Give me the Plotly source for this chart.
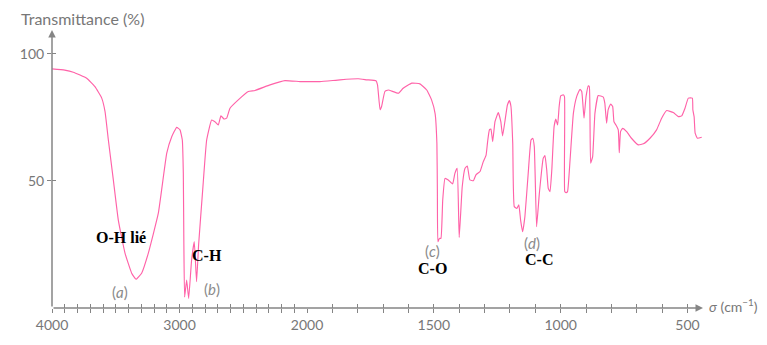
import numpy as np
import plotly.graph_objects as go

# Wavenumber (cm^-1) and transmittance (%)
sigma = [4000, 3900, 3833, 3728, 3663, 3610, 3584, 3558, 3519, 3480, 3427, 3375, 3341, 3297, 3245,
         3166, 3100, 3061, 3022, 2996, 2978, 2970, 2966, 2960, 2944, 2928, 2905, 2884, 2866, 2850,
         2818, 2787, 2748, 2722, 2696, 2675, 2651, 2630, 2604, 2539, 2460, 2408, 2290, 2173, 2055,
         2000, 1949, 1870, 1798, 1765, 1728, 1722, 1712, 1706, 1693, 1680, 1640, 1621, 1587, 1555,
         1528, 1509, 1495, 1488, 1486, 1484, 1478, 1472, 1465, 1456, 1443, 1426, 1417, 1408, 1400,
         1388, 1377, 1368, 1358, 1344, 1334, 1318, 1305, 1294, 1288, 1281, 1275, 1268, 1259, 1246,
         1236, 1229, 1219, 1210, 1202, 1196, 1189, 1183, 1173, 1165, 1158, 1150, 1141, 1128, 1117,
         1110, 1104, 1095, 1084, 1069, 1062, 1055, 1049, 1042, 1035, 1026, 1019, 1012, 1006, 1000,
         990, 985, 984, 979, 973, 963, 950, 937, 924, 917, 908, 900, 891, 887, 882,
         874, 865, 852, 832, 826, 819, 813, 803, 795, 790, 782, 773, 769, 764, 756,
         740, 721, 694, 674, 648, 622, 602, 582, 556, 536, 523, 510, 497, 481, 479,
         474, 470, 461, 444]
transmittance = [94.1, 93.6, 92.8, 90.4, 87.1, 82.6, 77.3, 66.1, 50.4, 34.6, 21.5, 13.7, 11.3, 13.7, 21.5,
                 37.3, 60.9, 67.4, 71.1, 70.1, 66.1, 53.0, 26.8, 4.3, 11.0, 3.8, 18.9, 26.1, 10.4, 25.0,
                 46.5, 66.1, 74.0, 73.3, 72.0, 75.6, 74.4, 74.7, 78.6, 81.9, 85.2, 85.6, 87.8, 89.5, 89.1,
                 89.1, 89.1, 89.8, 90.2, 89.8, 89.4, 87.8, 78.0, 79.3, 85.2, 85.8, 84.5, 86.5, 88.5, 88.2,
                 85.8, 81.9, 76.5, 64.8, 45.0, 26.1, 27.4, 27.4, 42.5, 51.0, 50.4, 48.8, 53.0, 55.0, 27.8,
                 47.8, 55.0, 55.9, 50.4, 50.1, 52.4, 53.7, 57.6, 60.2, 65.5, 70.1, 70.4, 65.5, 73.3, 76.9,
                 73.3, 67.7, 74.0, 79.9, 81.6, 79.3, 64.8, 39.9, 39.2, 40.6, 34.6, 30.0, 36.0, 53.0, 66.1,
                 66.8, 63.5, 32.0, 45.2, 58.9, 60.0, 54.3, 47.1, 45.8, 54.3, 71.4, 74.3, 72.0, 79.3, 83.5,
                 83.9, 83.2, 45.8, 45.4, 45.8, 58.3, 76.6, 83.2, 86.1, 85.2, 74.7, 83.2, 87.4, 87.1, 57.0,
                 59.6, 76.6, 83.6, 83.0, 80.6, 72.7, 78.0, 80.3, 79.3, 73.3, 72.0, 70.1, 61.1, 69.4, 70.7,
                 69.4, 66.8, 64.2, 64.6, 66.8, 70.1, 74.7, 77.7, 76.9, 75.3, 75.6, 78.6, 82.6, 82.6, 78.0,
                 75.3, 68.8, 66.8, 67.2]

upper_ticks = list(range(4000, 1999, -100))
lower_ticks = list(range(2000, 499, -100))
upper_labels = {4000: "4000", 3000: "3000"}
lower_labels = {2000: "2000", 1500: "1500", 1000: "1000", 500: "500"}
y_ticks = [50, 100]

# annotations: (text, sigma, T, kind)
labels = [("O-H lié", 3459, 27.6, "bond"), ("C-H", 2784, 20.5, "bond"),
          ("C-O", 1507, 15.6, "bond"), ("C-C", 1085, 18.9, "bond"),
          ("(<i>a</i>)", 3467, 6.3, "tag"), ("(<i>b</i>)", 2745, 7.5, "tag"),
          ("(<i>c</i>)", 1507, 22.6, "tag"), ("(<i>d</i>)", 1113, 25.6, "tag")]

s = np.array(sigma, dtype=float)
t = np.array(transmittance, dtype=float)
up = s >= 2000
lo = s <= 2000

PINK = "#ff62a8"
GREY = "#858585"
TXT = "#777777"
# the page body adds an 8px offset; compensate so the plot lands where the reference has it
W, H = 759, 337
ML, MR, MT, MB = 44, 64, 22, 37
PW, PH = W - ML - MR, H - MT - MB
YMAX = 109.4
split = (299 - ML) / PW

line = dict(color=PINK, width=1.15, shape="spline", smoothing=0.35)
fig = go.Figure()
fig.add_trace(go.Scatter(x=s[up], y=t[up], mode="lines", line=line,
                         xaxis="x", yaxis="y", hoverinfo="skip", showlegend=False))
fig.add_trace(go.Scatter(x=s[lo], y=t[lo], mode="lines", line=line,
                         xaxis="x2", yaxis="y", hoverinfo="skip", showlegend=False))
# invisible helpers so that overlay axes (inner half of crossing ticks) are drawn
for xa, ya in [("x3", "y"), ("x4", "y"), ("x", "y2")]:
    fig.add_trace(go.Scatter(x=[3000 if xa in ("x", "x3") else 1000], y=[50], mode="markers",
                             marker=dict(opacity=0), xaxis=xa, yaxis=ya,
                             hoverinfo="skip", showlegend=False))

tickfont = dict(family="Lato", size=14, color=TXT)
common_x = dict(showgrid=False, zeroline=False, showline=False, ticks="outside", ticklen=4,
                tickcolor=GREY, tickwidth=1, tickfont=tickfont, anchor="y", tickmode="array")
fig.update_layout(
    width=W, height=H, margin=dict(l=ML, r=MR, t=MT, b=MB, autoexpand=False),
    paper_bgcolor="white", plot_bgcolor="white",
    xaxis=dict(common_x, domain=[0, split], range=[4000, 2000], tickvals=upper_ticks,
               ticktext=[upper_labels.get(v, "") for v in upper_ticks]),
    xaxis2=dict(common_x, domain=[split, 1], range=[2000, 439], tickvals=lower_ticks,
                ticktext=[lower_labels.get(v, "") for v in lower_ticks]),
    xaxis3=dict(common_x, overlaying="x", range=[4000, 2000], tickvals=upper_ticks, ticks="inside",
                showticklabels=False),
    xaxis4=dict(common_x, overlaying="x2", range=[2000, 439], tickvals=lower_ticks, ticks="inside",
                showticklabels=False),
    yaxis=dict(range=[0, YMAX], showgrid=False, zeroline=False, showline=False, ticks="outside",
               ticklen=4, tickcolor=GREY, tickvals=y_ticks, tickfont=tickfont, anchor="x"),
    yaxis2=dict(range=[0, YMAX], overlaying="y", showgrid=False, zeroline=False, showline=False,
                ticks="inside", ticklen=4, tickcolor=GREY, tickvals=y_ticks,
                showticklabels=False, anchor="x"),
)

# axis lines with arrow heads
fig.add_annotation(x=1, y=0, xref="paper", yref="paper", ax=-PW, ay=0, text="",
                   showarrow=True, arrowhead=2, arrowsize=1, arrowwidth=1.5, arrowcolor=GREY)
fig.add_annotation(x=0, y=1, xref="paper", yref="paper", ax=0, ay=PH, text="",
                   showarrow=True, arrowhead=2, arrowsize=1, arrowwidth=1.5, arrowcolor=GREY)
fig.add_annotation(x=-33 / PW, y=1 + 12 / PH, xref="paper", yref="paper",
                   text="Transmittance (%)", showarrow=False, xanchor="left", yanchor="middle",
                   font=dict(family="Lato", size=16, color=TXT))
fig.add_annotation(x=1 + 4 / PW, y=0, xref="paper", yref="paper", yshift=3,
                   text="<i>σ</i> (cm<sup>−1</sup>)", showarrow=False, xanchor="left",
                   yanchor="middle", font=dict(family="Lato", size=14, color=TXT))

for text, sx, ty, kind in labels:
    xref = "x" if sx >= 2000 else "x2"
    if kind == "bond":
        font = dict(family="Liberation Serif", size=16, color="black")
        text = "<b>" + text + "</b>"
    else:
        font = dict(family="Lato", size=15, color="#8a8a8a")
    fig.add_annotation(x=sx, y=ty, xref=xref, yref="y", text=text, showarrow=False,
                       xanchor="center", yanchor="middle", font=font)

fig.write_html("out.html")
